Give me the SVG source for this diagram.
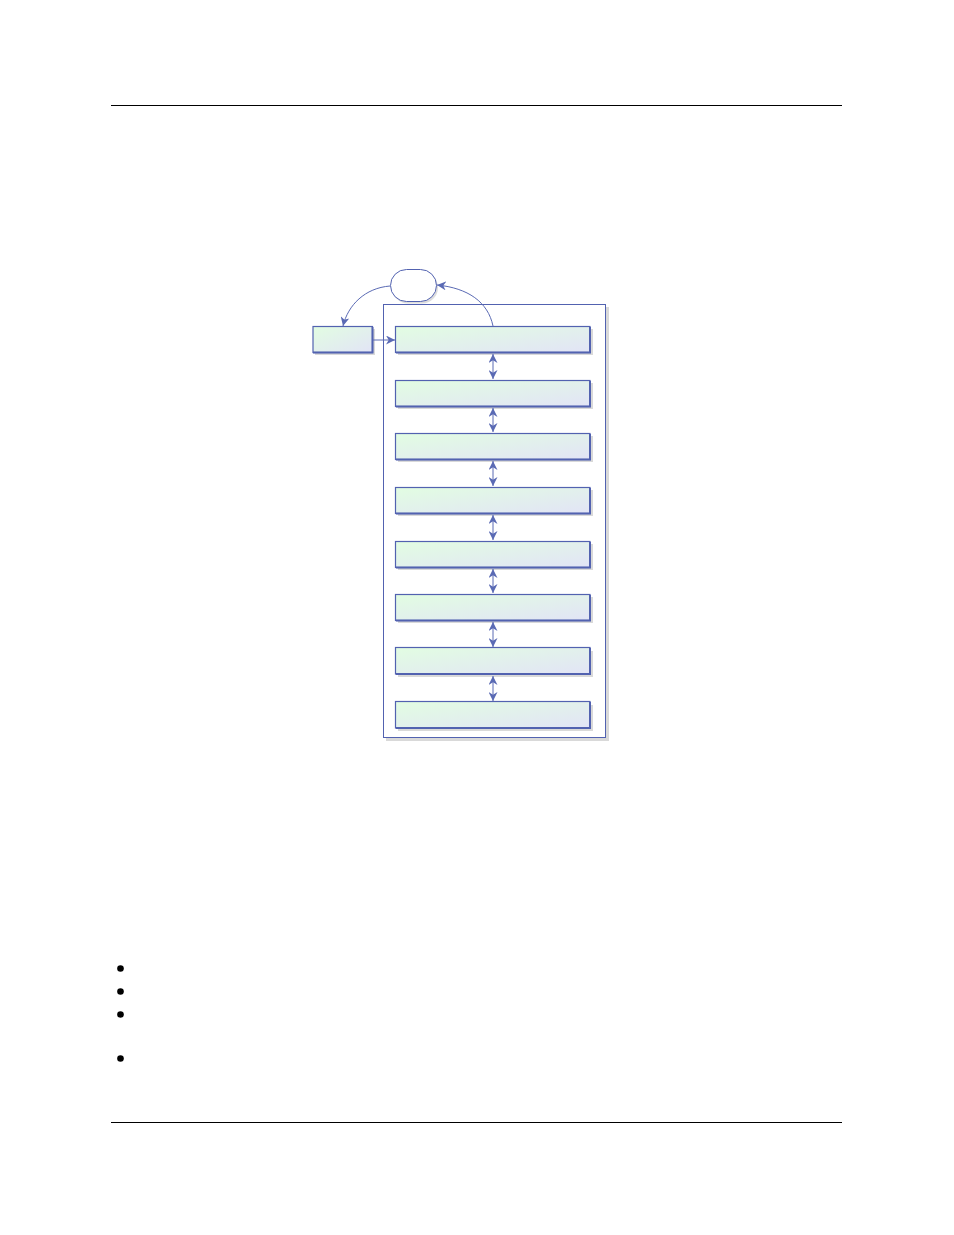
<svg xmlns="http://www.w3.org/2000/svg" width="954" height="1235" viewBox="0 0 954 1235">
<style>
.rule{stroke:#000;stroke-width:1}
.box{fill:url(#g);stroke:#5262b0;stroke-width:1.2}
.edge{fill:none;stroke:#5262b0;stroke-width:2}
.shadow{fill:#d9d9d9}
.conn{fill:none;stroke:#5a6ab4;stroke-width:1}
.bullet{fill:#000}
</style>
<defs>
<linearGradient id="g" x1="0" y1="0" x2="1" y2="1">
<stop offset="0" stop-color="#e2fde2"/>
<stop offset="1" stop-color="#e2e4f6"/>
</linearGradient>
<marker id="ah" viewBox="0 0 10 10" refX="10" refY="5" markerWidth="9" markerHeight="9" orient="auto-start-reverse" markerUnits="userSpaceOnUse">
<path d="M0,0 L10,5 L0,10 L3,5 Z" fill="#5a6ab4"/>
</marker>
</defs>
<line class="rule" x1="111" y1="105.5" x2="842" y2="105.5"/>
<line class="rule" x1="111" y1="1122.5" x2="842" y2="1122.5"/>
<g id="container">
<rect class="shadow" x="386" y="307" width="223" height="434"/>
<rect x="383.5" y="304.5" width="222" height="433" fill="#fff" stroke="#5262b0" stroke-width="1"/>
</g>
<g id="state">
<rect x="392" y="271.5" width="46" height="32" rx="16" fill="#ddd"/>
<rect x="390.5" y="269.5" width="46" height="32" rx="16" fill="#fff" stroke="#5262b0" stroke-width="1"/>
</g>
<g id="left">
<rect class="shadow" x="315" y="329" width="60" height="26"/>
<rect class="box" x="313" y="326.5" width="59.5" height="26"/>
<path class="edge" d="M372.5,327 V352.5 H313"/>
</g>
<g id="b1"><rect class="shadow" x="398" y="329" width="195" height="26"/><rect class="box" x="395.5" y="326.5" width="194.5" height="26"/><path class="edge" d="M590,327 V352.5 H396"/></g>
<g id="b2"><rect class="shadow" x="398" y="383" width="195" height="26"/><rect class="box" x="395.5" y="380.5" width="194.5" height="26"/><path class="edge" d="M590,381 V406.5 H396"/></g>
<g id="b3"><rect class="shadow" x="398" y="436" width="195" height="26"/><rect class="box" x="395.5" y="433.5" width="194.5" height="26"/><path class="edge" d="M590,434 V459.5 H396"/></g>
<g id="b4"><rect class="shadow" x="398" y="490" width="195" height="26"/><rect class="box" x="395.5" y="487.5" width="194.5" height="26"/><path class="edge" d="M590,488 V513.5 H396"/></g>
<g id="b5"><rect class="shadow" x="398" y="544" width="195" height="26"/><rect class="box" x="395.5" y="541.5" width="194.5" height="26"/><path class="edge" d="M590,542 V567.5 H396"/></g>
<g id="b6"><rect class="shadow" x="398" y="597" width="195" height="26"/><rect class="box" x="395.5" y="594.5" width="194.5" height="26"/><path class="edge" d="M590,595 V620.5 H396"/></g>
<g id="b7"><rect class="shadow" x="398" y="651" width="195" height="26"/><rect class="box" x="395.5" y="647.5" width="194.5" height="26.5"/><path class="edge" d="M590,648 V674 H396"/></g>
<g id="b8"><rect class="shadow" x="398" y="705" width="195" height="26"/><rect class="box" x="395.5" y="701.5" width="194.5" height="26.5"/><path class="edge" d="M590,702 V728 H396"/></g>
<g id="connectors">
<path class="conn" d="M390,286 C365,288 348,305 343,326" marker-end="url(#ah)"/>
<path class="conn" d="M493,326 C488,302 468,288 437,285" marker-end="url(#ah)"/>
<path class="conn" d="M373,340 H395" marker-end="url(#ah)"/>
<path class="conn" d="M493,354 V379" marker-start="url(#ah)" marker-end="url(#ah)"/>
<path class="conn" d="M493,408 V432" marker-start="url(#ah)" marker-end="url(#ah)"/>
<path class="conn" d="M493,461 V486" marker-start="url(#ah)" marker-end="url(#ah)"/>
<path class="conn" d="M493,515 V540" marker-start="url(#ah)" marker-end="url(#ah)"/>
<path class="conn" d="M493,569 V593" marker-start="url(#ah)" marker-end="url(#ah)"/>
<path class="conn" d="M493,622 V647" marker-start="url(#ah)" marker-end="url(#ah)"/>
<path class="conn" d="M493,676 V701" marker-start="url(#ah)" marker-end="url(#ah)"/>
</g>
<circle class="bullet" cx="120.5" cy="968.5" r="3.3"/>
<circle class="bullet" cx="120.5" cy="991.5" r="3.3"/>
<circle class="bullet" cx="120.5" cy="1014.5" r="3.3"/>
<circle class="bullet" cx="120.5" cy="1058.5" r="3.3"/>
</svg>
